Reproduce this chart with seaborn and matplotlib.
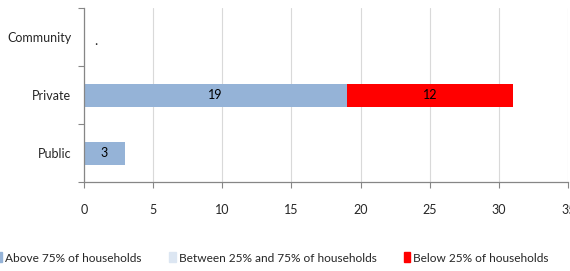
import matplotlib
matplotlib.use("Agg")
import matplotlib.pyplot as plt
import matplotlib.patches as mpatches
import pandas as pd
import seaborn as sns

# chart data
categories = ["Community", "Private", "Public"]
above_75 = [0, 19, 3]
between_25_75 = [0, 0, 0]
below_25 = [0, 12, 0]
series_names = ["Above 75% of households", "Between 25% and 75% of households",
                "Below 25% of households"]
colors = ["#95B3D7", "#DCE6F2", "#FF0000"]

sns.set_style("white")
plt.rcParams["font.family"] = ["Lato", "DejaVu Sans"]

df = pd.DataFrame({"category": categories, "above": above_75,
                   "between": between_25_75, "below": below_25})
df["cum_between"] = df["above"] + df["between"]
df["cum_below"] = df["cum_between"] + df["below"]

fig = plt.figure(figsize=(5.7, 2.71), dpi=100)
ax = fig.add_axes([0.147, 0.328, 0.85, 0.642])

# stacked bars: draw totals first, then smaller cumulative sums on top
for col, c in zip(["cum_below", "cum_between", "above"], colors[::-1]):
    sns.barplot(data=df, x=col, y="category", order=categories, color=c,
                width=0.4, orient="h", ax=ax, saturation=1, edgecolor="none")

# segment labels
for i, cat in enumerate(categories):
    start = 0
    for vals in [above_75, between_25_75, below_25]:
        v = vals[i]
        if v > 0:
            ax.text(start + v / 2, i, str(v), ha="center", va="center",
                    fontsize=9, color="black")
        start += v
ax.text(0.9, 0.07, ".", ha="center", va="center", fontsize=10)

ax.set_xlim(0, 35)
ax.set_xticks(range(0, 36, 5))
ax.set_ylim(2.5, -0.5)
ax.set_xlabel("")
ax.set_ylabel("")

ax.grid(axis="x", color="#D9D9D9", linewidth=0.8)
ax.set_axisbelow(True)
for s in ["top", "right"]:
    ax.spines[s].set_visible(False)
for s in ["left", "bottom"]:
    ax.spines[s].set_color("#868686")
    ax.spines[s].set_linewidth(0.9)

ax.tick_params(axis="x", length=4, width=0.8, color="#868686", pad=12,
               labelsize=9, direction="out", bottom=True)
ax.tick_params(axis="y", which="major", length=0, pad=9, labelsize=9)
ax.set_yticks([-0.5, 0.5, 1.5, 2.5], minor=True)
ax.tick_params(axis="y", which="minor", length=4, width=0.8, color="#868686",
               left=True)

handles = [mpatches.Patch(color=c, label=n) for c, n in zip(colors, series_names)]
fig.legend(handles=handles, loc="center left", bbox_to_anchor=(-0.008, 0.048),
           ncol=3, frameon=False, fontsize=8.6, handlelength=0.55,
           handleheight=0.9, handletextpad=0.25, columnspacing=2.3,
           borderpad=0, borderaxespad=0)

fig.savefig("out.png", dpi=100)
